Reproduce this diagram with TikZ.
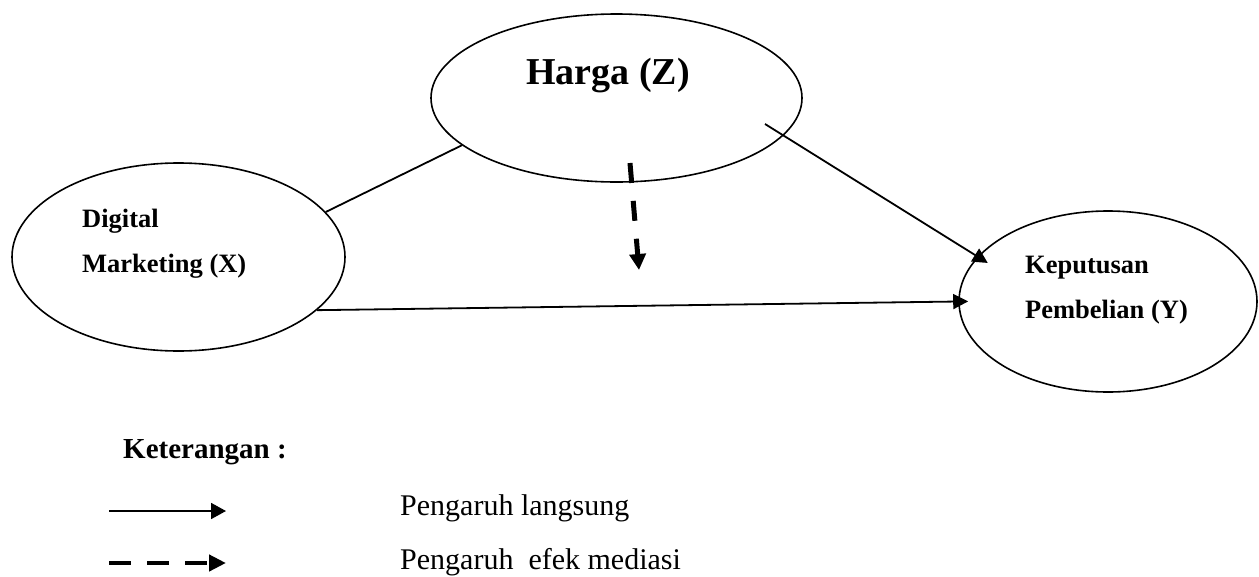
\documentclass[tikz,border=0pt]{standalone}
\usepackage{fontspec}
\setmainfont{Liberation Serif}
\usetikzlibrary{shapes.geometric,arrows.meta}
\begin{document}
\begin{tikzpicture}[x=1pt,y=-1pt,
  ell/.style={draw, ellipse, line width=1.6pt, inner sep=0pt},
  nodetext/.style={anchor=base west, inner sep=0pt, font=\bfseries\fontsize{26.5}{30}\selectfont},
  conn/.style={line width=1.8pt},
  arr/.style={line width=1.8pt, -{Triangle[length=15pt,width=15pt]}},
  darr/.style={line width=5pt, dash pattern=on 20pt off 18pt, -{Triangle[length=16pt,width=16pt]}},
  ldarr/.style={line width=4.5pt, dash pattern=on 22pt off 16pt, -{Triangle[length=17pt,width=16pt]}},
  legtext/.style={anchor=base west, inner sep=0pt, font=\fontsize{30}{34}\selectfont}]
\useasboundingbox (0,0) rectangle (1259,576);
\fill[white] (0,0) rectangle (1259,576);

% ellipses
\node[ell, minimum width=371pt, minimum height=168pt] (Z) at (616.5,98) {};
\node[nodetext, font=\bfseries\fontsize{38}{42}\selectfont] (Zt) at (526,84) {Harga (Z)};

\node[ell, minimum width=333pt, minimum height=188pt] (X) at (178.5,257) {};
\node[nodetext] (Xa) at (82,227) {Digital};
\node[nodetext] (Xb) at (82,272) {Marketing (X)};

\node[ell, minimum width=298pt, minimum height=181pt] (Y) at (1108,301.5) {};
\node[nodetext] (Ya) at (1025,273) {Keputusan};
\node[nodetext] (Yb) at (1025,318) {Pembelian (Y)};

% connectors
\draw[conn] (X.17) -- (Z.197);
\coordinate (zs) at (765,124);
\draw[arr, shorten >=-12pt] (zs) -- (Y.161.5);
\draw[arr, shorten >=-10pt] (X.-21) -- (Y.180);
\coordinate (ds) at (630,163);
\coordinate (de) at (639,270);
\draw[darr] (ds) -- (de);

% legend
\node[anchor=base west, inner sep=0pt, font=\bfseries\fontsize{29}{33}\selectfont] (ket) at (123,458) {Keterangan :};
\coordinate (l1s) at (109,511);
\coordinate (l1e) at (226,511);
\draw[line width=1.8pt, -{Triangle[length=15pt,width=16pt]}] (l1s) -- (l1e);
\coordinate (l2s) at (109,563);
\coordinate (l2e) at (226,563);
\draw[ldarr] (l2s) -- (l2e);
\node[legtext] (lt1) at (400,515) {Pengaruh langsung};
\node[legtext] (lt2) at (400,569) {Pengaruh\ \ efek mediasi};
\end{tikzpicture}
\end{document}
